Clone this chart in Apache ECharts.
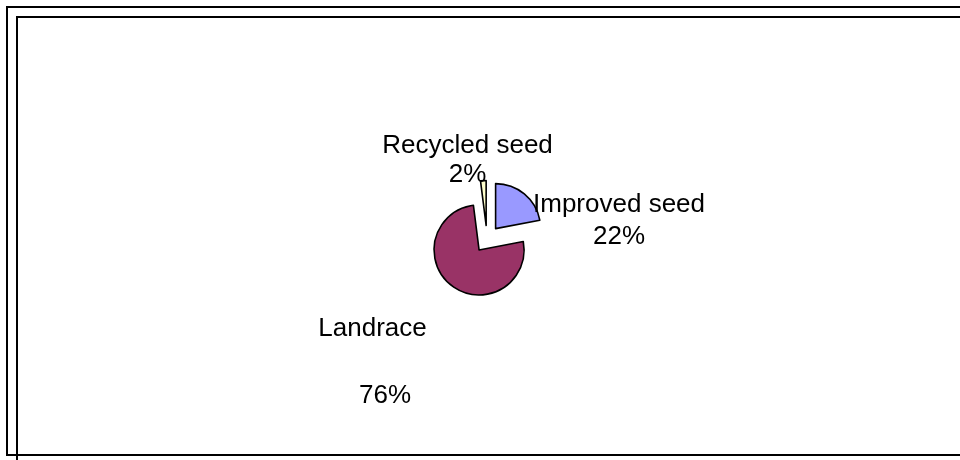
<!DOCTYPE html>
<html><head><meta charset="utf-8">
<script src="https://cdn.jsdelivr.net/npm/echarts@6/dist/echarts.min.js"></script>
<style>html,body{margin:0;padding:0;background:#fff}#c{width:960px;height:460px}</style>
</head><body><div id="c"></div>
<script>
const categories = ['Improved seed', 'Landrace', 'Recycled seed'];
const values = [22, 76, 2];
const colors = ['#9999FF', '#993366', '#FFFFCC'];

// label placement helpers (layout only, not data)
const labelLen = [-35.1, 94.2, 20.4];
const labelLen2 = [12.1, -80.3, -80.5];
const labelLineHeights = [32, 33.5, 29.5];
const labelBoxWidths = [200, 200, 180];

const FONT = 'Liberation Sans, Arial, sans-serif';
function mkLabel(i) {
  const base = {fontSize: 26, fontFamily: FONT, color: '#000', lineHeight: labelLineHeights[i]};
  const w = labelBoxWidths[i];
  return Object.assign({}, base, {
    show: true,
    position: 'outside',
    formatter: i === 1 ? '{n|{b}}\n\n{q|{d}%}' : '{n|{b}}\n{p|{d}%}',
    rich: {
      n: Object.assign({}, base, {width: w, align: 'center'}),
      p: Object.assign({}, base, {width: w, align: 'center'}),
      q: Object.assign({}, base, {width: w - 25, align: 'center', padding: [0, 0, 0, 25]})
    }
  });
}

const chart = echarts.init(document.getElementById('c'), null, {renderer: 'canvas'});
chart.setOption({
  backgroundColor: '#fff',
  animation: false,
  graphic: [
    {type: 'rect', silent: true, shape: {x: 7, y: 7, width: 1000, height: 448}, style: {fill: 'none', stroke: '#000', lineWidth: 2}},
    {type: 'rect', silent: true, shape: {x: 17, y: 17, width: 1000, height: 500}, style: {fill: 'none', stroke: '#000', lineWidth: 2}}
  ],
  series: [{
    type: 'pie',
    center: [487, 239],
    radius: 45,
    startAngle: 90,
    clockwise: true,
    selectedMode: 'multiple',
    selectedOffset: 13.5,
    avoidLabelOverlap: false,
    labelLayout: {hideOverlap: false},
    emphasis: {disabled: true},
    itemStyle: {borderColor: '#000', borderWidth: 1.6},
    label: {show: true, position: 'outside'},
    data: categories.map((name, i) => ({
      name: name,
      value: values[i],
      selected: true,
      itemStyle: {color: colors[i]},
      label: mkLabel(i),
      labelLine: {show: false, length: labelLen[i], length2: labelLen2[i]}
    }))
  }]
});
</script></body></html>
